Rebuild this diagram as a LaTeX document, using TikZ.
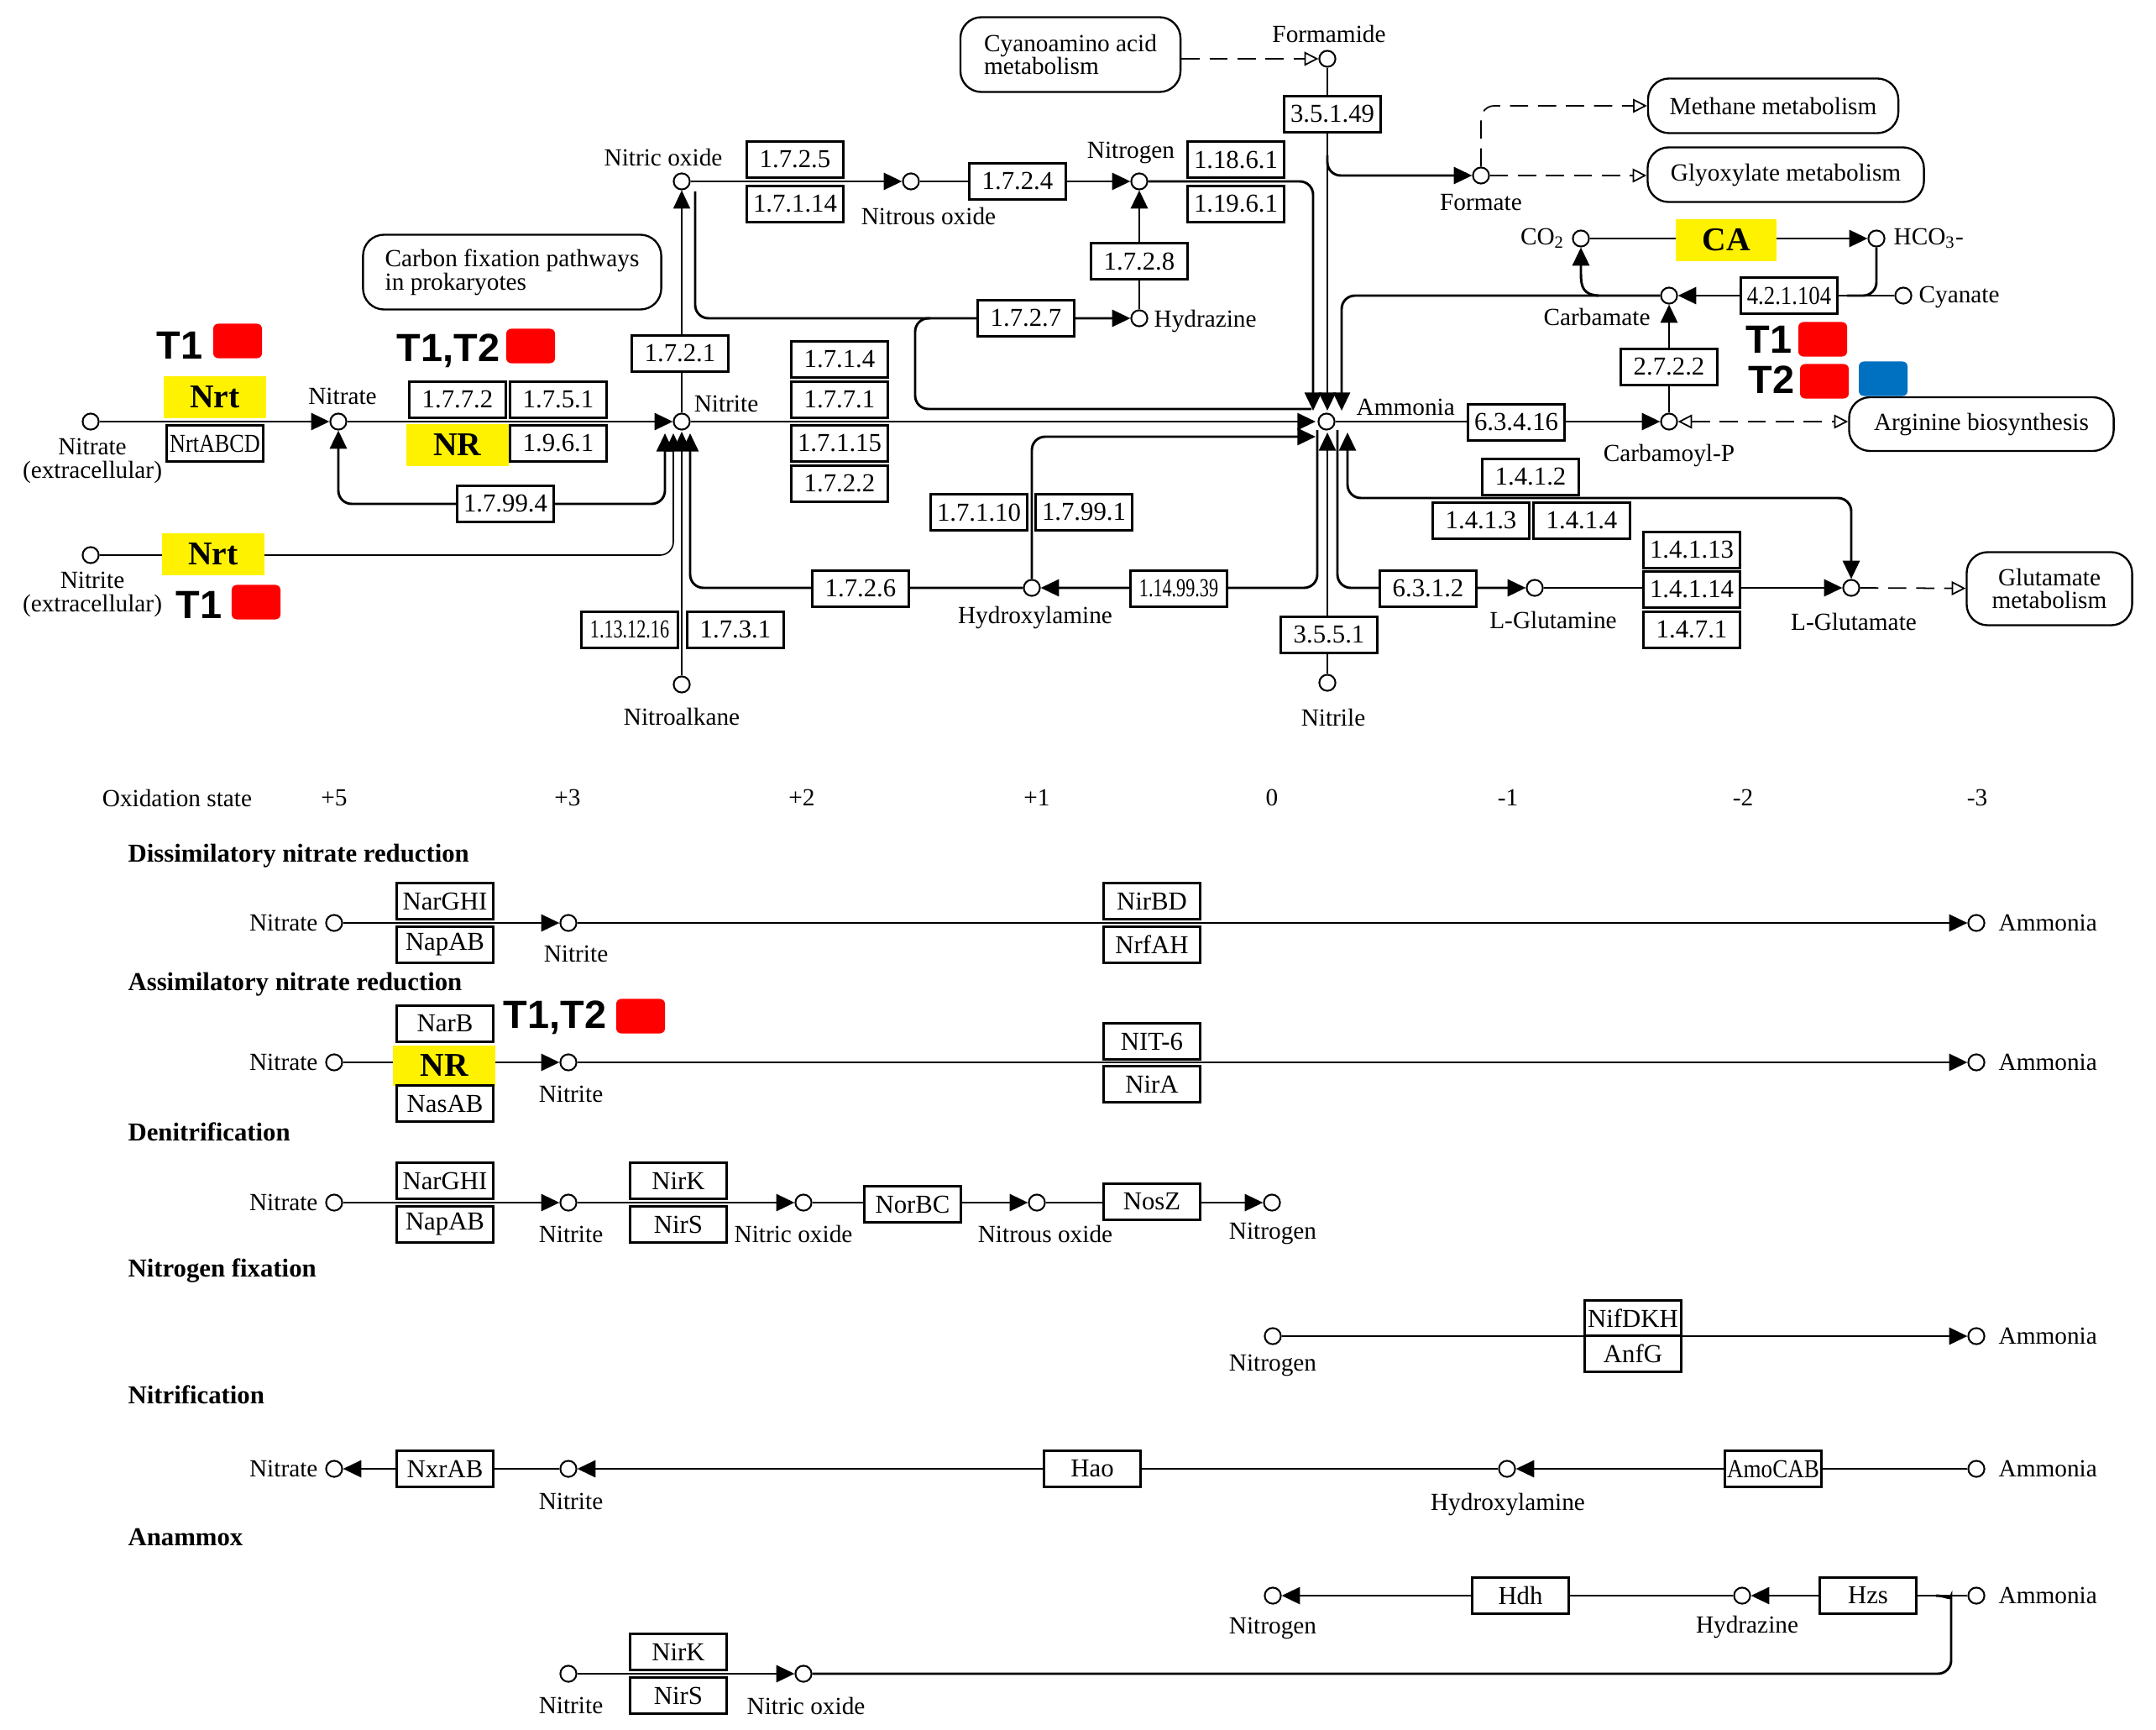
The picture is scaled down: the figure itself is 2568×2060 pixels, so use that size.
\documentclass[tikz,border=0pt]{standalone}
\usepackage{fontspec}
\setmainfont{Liberation Serif}
\newfontfamily\tsans{Liberation Sans}
\usepackage{graphicx}
\usetikzlibrary{arrows.meta}
\pgfdeclarelayer{bg}
\pgfsetlayers{bg,main}
\newcommand{\hsq}[2]{\scalebox{#1}[1]{#2}}
\definecolor{blueT}{RGB}{0,112,192}
\tikzset{
  cpd/.style={circle,draw,line width=0.7pt,fill=white,inner sep=0pt,minimum size=0.23cm},
  enz/.style={draw,line width=0.8pt,fill=white,inner sep=0pt,minimum width=1.38cm,minimum height=0.516cm,font=\fontsize{10.5}{12}\selectfont},
  hl/.style={fill=yellow,inner sep=0pt,minimum width=1.452cm,minimum height=0.588cm,font=\fontsize{13.5}{14}\selectfont\bfseries},
  mapb/.style={draw,line width=0.8pt,fill=white,rounded corners=0.3cm,inner sep=0pt,align=center,font=\fontsize{10}{9.5}\selectfont},
  lbl/.style={inner sep=0pt,font=\fontsize{10}{9.5}\selectfont,align=center},
  ttl/.style={inner sep=0pt,anchor=west,font=\fontsize{10.5}{12}\selectfont\bfseries},
  tl/.style={inner sep=0pt,font=\tsans\fontsize{16}{17}\selectfont\bfseries},
  sqr/.style={fill=red,rounded corners=2pt,minimum width=0.696cm,minimum height=0.492cm,inner sep=0pt},
  sqb/.style={sqr,fill=blueT},
  ln/.style={line width=1pt},
  tln/.style={line width=0.55pt},
  fa/.style={-{Triangle[length=0.26cm,width=0.24cm]}},
  fab/.style={{Triangle[length=0.26cm,width=0.24cm]}-{Triangle[length=0.26cm,width=0.24cm]}},
  da/.style={line width=0.6pt,dash pattern=on 0.26cm off 0.14cm,-{Triangle[open,length=0.2cm,width=0.2cm]}},
  dab/.style={line width=0.6pt,dash pattern=on 0.26cm off 0.14cm,{Triangle[open,length=0.2cm,width=0.2cm]}-{Triangle[open,length=0.2cm,width=0.2cm]}},
  rc/.style={rounded corners=0.19cm},
}
\begin{document}
\begin{tikzpicture}[x=0.012cm,y=-0.012cm]
\useasboundingbox (0,0) rectangle (2568,2060);
\begin{pgfonlayer}{bg}
\fill[white] (0,0) rectangle (2568,2060);
\end{pgfonlayer}

% ---------------- top map ----------------
\node[cpd] (formamide) at (1581,70) {};
\node[lbl] at (1583,40) {Formamide};
\node[mapb,minimum width=3.144cm,minimum height=1.068cm,align=left] (cyano) at (1275,65) {Cyanoamino acid\\metabolism};
\node[enz] (e35149) at (1587,136) {3.5.1.49};
\node[cpd] (formate) at (1764,209) {};
\node[lbl] at (1764,241) {Formate};
\node[mapb,minimum width=3.576cm,minimum height=0.78cm] (methane) at (2112,126) {Methane metabolism};
\node[mapb,minimum width=3.948cm,minimum height=0.78cm] (glyox) at (2127,208) {Glyoxylate metabolism};

\node[cpd] (no) at (812,216) {};
\node[lbl] at (790,187) {Nitric oxide};
\node[enz] (e1725) at (947,190) {1.7.2.5};
\node[enz] (e17114) at (947,243) {1.7.1.14};
\node[cpd] (n2o) at (1085,216) {};
\node[lbl] at (1106,257) {Nitrous oxide};
\node[enz] (e1724) at (1212,216) {1.7.2.4};
\node[cpd] (n2) at (1357,216) {};
\node[lbl] at (1347,182) {Nitrogen};
\node[enz] (e11861) at (1472,190) {1.18.6.1};
\node[enz] (e11961) at (1472,243) {1.19.6.1};
\node[enz] (e1728) at (1357,311) {1.7.2.8};
\node[cpd] (hydrazine) at (1357,379) {};
\node[lbl,anchor=west] at (1374,382) {Hydrazine};
\node[enz] (e1727) at (1222,379) {1.7.2.7};

\node[mapb,minimum width=4.26cm,minimum height=1.068cm,align=left] (carbon) at (610,324) {Carbon fixation pathways\\in prokaryotes};

\node[cpd] (nitex) at (108,502) {};
\node[lbl] at (110,549) {Nitrate\\(extracellular)};
\node[hl] (nrt1) at (256,473) {Nrt};
\node[enz] (nrtabcd) at (256,528) {\hsq{0.85}{NrtABCD}};
\node[cpd] (nitrate) at (403,502) {};
\node[lbl] at (408,472) {Nitrate};
\node[enz] (e1772) at (545,476) {1.7.7.2};
\node[enz] (e1751) at (665,476) {1.7.5.1};
\node[hl] (nr1) at (545,530) {NR};
\node[enz] (e1961) at (665,528) {1.9.6.1};
\node[cpd] (nitrite) at (812,502) {};
\node[lbl] at (865,481) {Nitrite};
\node[enz] (e17994) at (602,600) {1.7.99.4};
\node[cpd] (nitex2) at (108,661) {};
\node[lbl] at (110,708) {Nitrite\\(extracellular)};
\node[hl] (nrt2) at (254,660) {Nrt};
\node[enz] (e1721) at (810,421) {1.7.2.1};
\node[enz] (e1714) at (1000,428) {1.7.1.4};
\node[enz] (e1771) at (1000,476) {1.7.7.1};
\node[enz] (e17115) at (1000,528) {1.7.1.15};
\node[enz] (e1722) at (1000,576) {1.7.2.2};
\node[enz] (e1131216) at (750,750) {\hsq{0.72}{1.13.12.16}};
\node[enz] (e1731) at (876,750) {1.7.3.1};
\node[cpd] (nitroalk) at (812,815) {};
\node[lbl] at (812,853) {Nitroalkane};
\node[enz] (e1726) at (1025,701) {1.7.2.6};
\node[cpd] (hydroxyl) at (1229,700) {};
\node[lbl] at (1233,735) {Hydroxylamine};
\node[enz] (e17110) at (1166,610) {1.7.1.10};
\node[enz] (e17991) at (1291,610) {1.7.99.1};
\node[enz] (e1149939) at (1404,701) {\hsq{0.72}{1.14.99.39}};
\node[cpd] (ammonia) at (1580,502) {};
\node[lbl,anchor=west] at (1615,485) {Ammonia};
\node[enz] (e3551) at (1583,756) {3.5.5.1};
\node[cpd] (nitrile) at (1581,813) {};
\node[lbl] at (1588,854) {Nitrile};
\node[enz] (e63416) at (1806,503) {6.3.4.16};
\node[cpd] (carbp) at (1988,502) {};
\node[lbl] at (1988,542) {Carbamoyl-P};
\node[mapb,minimum width=3.78cm,minimum height=0.768cm] (arg) at (2360,505) {Arginine biosynthesis};
\node[enz] (e2722) at (1988,437) {2.7.2.2};
\node[cpd] (carbamate) at (1988,352) {};
\node[lbl] at (1902,377) {Carbamate};
\node[enz] (e421104) at (2131,352) {\hsq{0.87}{4.2.1.104}};
\node[cpd] (cyanate) at (2267,352) {};
\node[lbl,anchor=west] at (2285,354) {Cyanate};
\node[cpd] (co2) at (1883,284) {};
\node[lbl,anchor=east] at (1864,284) {CO\textsubscript{2}};
\node[hl,minimum width=1.44cm] (ca) at (2056,286) {CA};
\node[cpd] (hco3) at (2235,284) {};
\node[lbl,anchor=west] at (2255,284) {HCO\textsubscript{3}-};
\node[enz] (e1412) at (1823,568) {1.4.1.2};
\node[enz] (e1413) at (1764,620) {1.4.1.3};
\node[enz] (e1414) at (1884,620) {1.4.1.4};
\node[enz] (e6312) at (1701,701) {6.3.1.2};
\node[cpd] (gln) at (1828,700) {};
\node[lbl] at (1850,738) {L-Glutamine};
\node[enz] (e14113) at (2015,655) {1.4.1.13};
\node[enz] (e14114) at (2015,702) {1.4.1.14};
\node[enz] (e1471) at (2015,750) {1.4.7.1};
\node[cpd] (glu) at (2205,700) {};
\node[lbl] at (2208,740) {L-Glutamate};
\node[mapb,minimum width=2.364cm,minimum height=1.044cm] (glumet) at (2441,701) {Glutamate\\metabolism};

% T labels
\node[tl] (t1a) at (214,411) {T1}; \node[sqr] (r1a) at (283,406) {};
\node[tl] (t1b) at (237,720) {T1}; \node[sqr] (r1b) at (305,717) {};
\node[tl] (t12a) at (534,418) {T1,T2}; \node[sqr] (r12a) at (632,412) {};
\node[tl] (t1c) at (2107,404) {T1}; \node[sqr] (r1c) at (2171,404) {};
\node[tl] (t2c) at (2110,452) {T2}; \node[sqr] (r2c) at (2173,454) {}; \node[sqb] (b2c) at (2243,451) {};

% hub coordinates
\coordinate (noout) at (828,228);
\coordinate (niB1) at (792,516);
\coordinate (niB2) at (802,516);
\coordinate (niB3) at (812,514);
\coordinate (niB4) at (822,516);
\coordinate (amT1) at (1564,489);
\coordinate (amT2) at (1581,489);
\coordinate (amT3) at (1598,489);
\coordinate (amL1) at (1567,502);
\coordinate (amL2) at (1567,520);
\coordinate (amB1) at (1569,512);
\coordinate (amB2) at (1581,515);
\coordinate (amB3) at (1593,512);
\coordinate (amB4) at (1605,515);

\begin{pgfonlayer}{bg}
\draw[da] (cyano.east |- formamide) -- (formamide);
\draw[ln,fa] (formamide) -- (amT2);
\draw[ln,fa,rc] (1581,185) -- (1581,209) -- (formate);
\draw[da,rc] (formate) -- (1764,126) -- (methane.west);
\draw[da] (formate) -- (glyox.west |- formate);
\draw[ln,fa] (no) -- (n2o);
\draw[ln,fa] (n2o) -- (n2);
\draw[ln,fa,rc] (n2) -- (1564,216) -- (amT1);
\draw[ln,fa] (hydrazine) -- (n2);
\draw[ln,fa,rc] (noout) -- (828,379) -- (hydrazine);
\draw[ln,rc] (1108,379) -- (1090,379) -- (1090,487) -- (1562,487);
\draw[ln,fa] (nitex) -- (nitrate);
\draw[ln,fa] (nitrate) -- (nitrite);
\draw[ln,fab,rc] (nitrate) -- (403,600) -- (792,600) -- (niB1);
\draw[tln,fa,rc] (nitex2) -- (802,661) -- (niB2);
\draw[tln,fa] (nitroalk) -- (niB3);
\draw[ln,fa,rc] (hydroxyl) -- (822,700) -- (niB4);
\draw[tln,fa] (nitrite) -- (no);
\draw[ln,fa] (nitrite) -- (amL1);
\draw[ln,fa,rc] (hydroxyl) -- (1229,520) -- (amL2);
\draw[ln,fa,rc] (amB1) -- (1569,700) -- (hydroxyl);
\draw[ln,fa] (nitrile) -- (amB2);
\draw[ln,fab,rc] (amB4) -- (1605,593) -- (2205,593) -- (glu);
\draw[ln,fa,rc] (amB3) -- (1593,700) -- (gln);
\draw[ln,fa] (gln) -- (glu);
\draw[da] (glu) -- (glumet);
\draw[ln,fa] (ammonia) -- (carbp);
\draw[dab] (carbp) -- (arg.west |- carbp);
\draw[ln,fa] (carbp) -- (carbamate);
\draw[ln,fa,rc] (carbamate) -- (1598,352) -- (amT3);
\draw[ln,fa] (cyanate) -- (carbamate);
\draw[ln,rc] (hco3) -- (2235,352) -- (2200,352);
\draw[ln,fa] (co2) -- (hco3);
\draw[ln,fa] (1904,352) .. controls (1886,351) and (1883,342) .. (1883,326) -- (co2);
\end{pgfonlayer}

% ---------------- oxidation states ----------------
\node[lbl] at (211,950) {Oxidation state};
\node[lbl] at (398,950) {+5};
\node[lbl] at (676,950) {+3};
\node[lbl] at (955,950) {+2};
\node[lbl] at (1235,950) {+1};
\node[lbl] at (1515,950) {0};
\node[lbl] at (1796,950) {-1};
\node[lbl] at (2076,950) {-2};
\node[lbl] at (2355,950) {-3};

\node[ttl] at (152,1019) {Dissimilatory nitrate reduction};
\node[ttl] at (152,1172) {Assimilatory nitrate reduction};
\node[ttl] at (152,1348) {Denitrification};
\node[ttl] at (152,1513) {Nitrogen fixation};
\node[ttl] at (152,1661) {Nitrification};
\node[ttl] at (152,1830) {Anammox};

% Dissimilatory
\node[cpd] (d1a) at (398,1099) {}; \node[lbl,anchor=east] at (379,1099) {Nitrate};
\node[enz] at (530,1073) {NarGHI}; \node[enz] at (530,1125) {NapAB};
\node[cpd] (d1b) at (677,1099) {}; \node[lbl] at (686,1136) {Nitrite};
\node[enz] at (1372,1073) {NirBD}; \node[enz] at (1372,1125) {NrfAH};
\node[cpd] (d1c) at (2354,1099) {}; \node[lbl,anchor=west] at (2380,1099) {Ammonia};

% Assimilatory
\node[cpd] (d2a) at (398,1265) {}; \node[lbl,anchor=east] at (379,1265) {Nitrate};
\node[enz] at (530,1219) {NarB};
\node[hl,minimum width=1.464cm,minimum height=0.576cm] at (529,1269) {NR};
\node[enz] at (530,1314) {NasAB};
\node[tl] at (661,1212) {T1,T2}; \node[sqr] at (763,1210) {};
\node[cpd] (d2b) at (677,1265) {}; \node[lbl] at (680,1303) {Nitrite};
\node[enz] at (1372,1240) {NIT-6}; \node[enz] at (1372,1291) {NirA};
\node[cpd] (d2c) at (2354,1265) {}; \node[lbl,anchor=west] at (2380,1265) {Ammonia};

% Denitrification
\node[cpd] (d3a) at (398,1432) {}; \node[lbl,anchor=east] at (379,1432) {Nitrate};
\node[enz] at (530,1406) {NarGHI}; \node[enz] at (530,1458) {NapAB};
\node[cpd] (d3b) at (677,1432) {}; \node[lbl] at (680,1470) {Nitrite};
\node[enz] at (808,1406) {NirK}; \node[enz] at (808,1458) {NirS};
\node[cpd] (d3c) at (957,1432) {}; \node[lbl] at (945,1469) {Nitric oxide};
\node[enz] at (1087,1434) {NorBC};
\node[cpd] (d3d) at (1235,1432) {}; \node[lbl] at (1245,1469) {Nitrous oxide};
\node[enz] at (1372,1431) {NosZ};
\node[cpd] (d3e) at (1515,1432) {}; \node[lbl] at (1516,1469) {Nitrogen};

% Nitrogen fixation
\node[cpd] (d4a) at (1516,1591) {}; \node[lbl] at (1516,1626) {Nitrogen};
\node[enz] at (1945,1570) {NifDKH}; \node[enz] at (1945,1612) {AnfG};
\node[cpd] (d4b) at (2354,1591) {}; \node[lbl,anchor=west] at (2380,1591) {Ammonia};

% Nitrification
\node[cpd] (d5a) at (398,1749) {}; \node[lbl,anchor=east] at (379,1749) {Nitrate};
\node[enz] at (530,1749) {NxrAB};
\node[cpd] (d5b) at (677,1749) {}; \node[lbl] at (680,1788) {Nitrite};
\node[enz] at (1301,1749) {Hao};
\node[cpd] (d5c) at (1795,1749) {}; \node[lbl] at (1796,1791) {Hydroxylamine};
\node[enz] at (2112,1749) {\hsq{0.88}{AmoCAB}};
\node[cpd] (d5d) at (2354,1749) {}; \node[lbl,anchor=west] at (2380,1749) {Ammonia};

% Anammox
\node[cpd] (d6a) at (1516,1900) {}; \node[lbl] at (1516,1939) {Nitrogen};
\node[enz] at (1811,1900) {Hdh};
\node[cpd] (d6b) at (2075,1900) {}; \node[lbl] at (2081,1937) {Hydrazine};
\node[enz] at (2225,1900) {Hzs};
\node[cpd] (d6c) at (2354,1900) {}; \node[lbl,anchor=west] at (2380,1900) {Ammonia};
\node[cpd] (d7a) at (677,1993) {}; \node[lbl] at (680,2031) {Nitrite};
\node[enz] at (808,1967) {NirK}; \node[enz] at (808,2019) {NirS};
\node[cpd] (d7b) at (957,1993) {}; \node[lbl] at (960,2031) {Nitric oxide};

\begin{pgfonlayer}{bg}
\draw[ln,fa] (d1a) -- (d1b); \draw[ln,fa] (d1b) -- (d1c);
\draw[ln,fa] (d2a) -- (d2b); \draw[ln,fa] (d2b) -- (d2c);
\draw[ln,fa] (d3a) -- (d3b); \draw[ln,fa] (d3b) -- (d3c);
\draw[ln,fa] (d3c) -- (d3d); \draw[ln,fa] (d3d) -- (d3e);
\draw[ln,fa] (d4a) -- (d4b);
\draw[ln,fa] (d5b) -- (d5a); \draw[ln,fa] (d5c) -- (d5b); \draw[ln,fa] (d5d) -- (d5c);
\draw[ln,fa] (d6b) -- (d6a); \draw[ln,fa] (d6c) -- (d6b);
\draw[ln,fa] (d7a) -- (d7b);
\draw[ln,rc] (d7b) -- (2324,1993) -- (2324,1916) .. controls (2324,1906) and (2318,1900) .. (2306,1900);
\end{pgfonlayer}
\end{tikzpicture}
\end{document}
